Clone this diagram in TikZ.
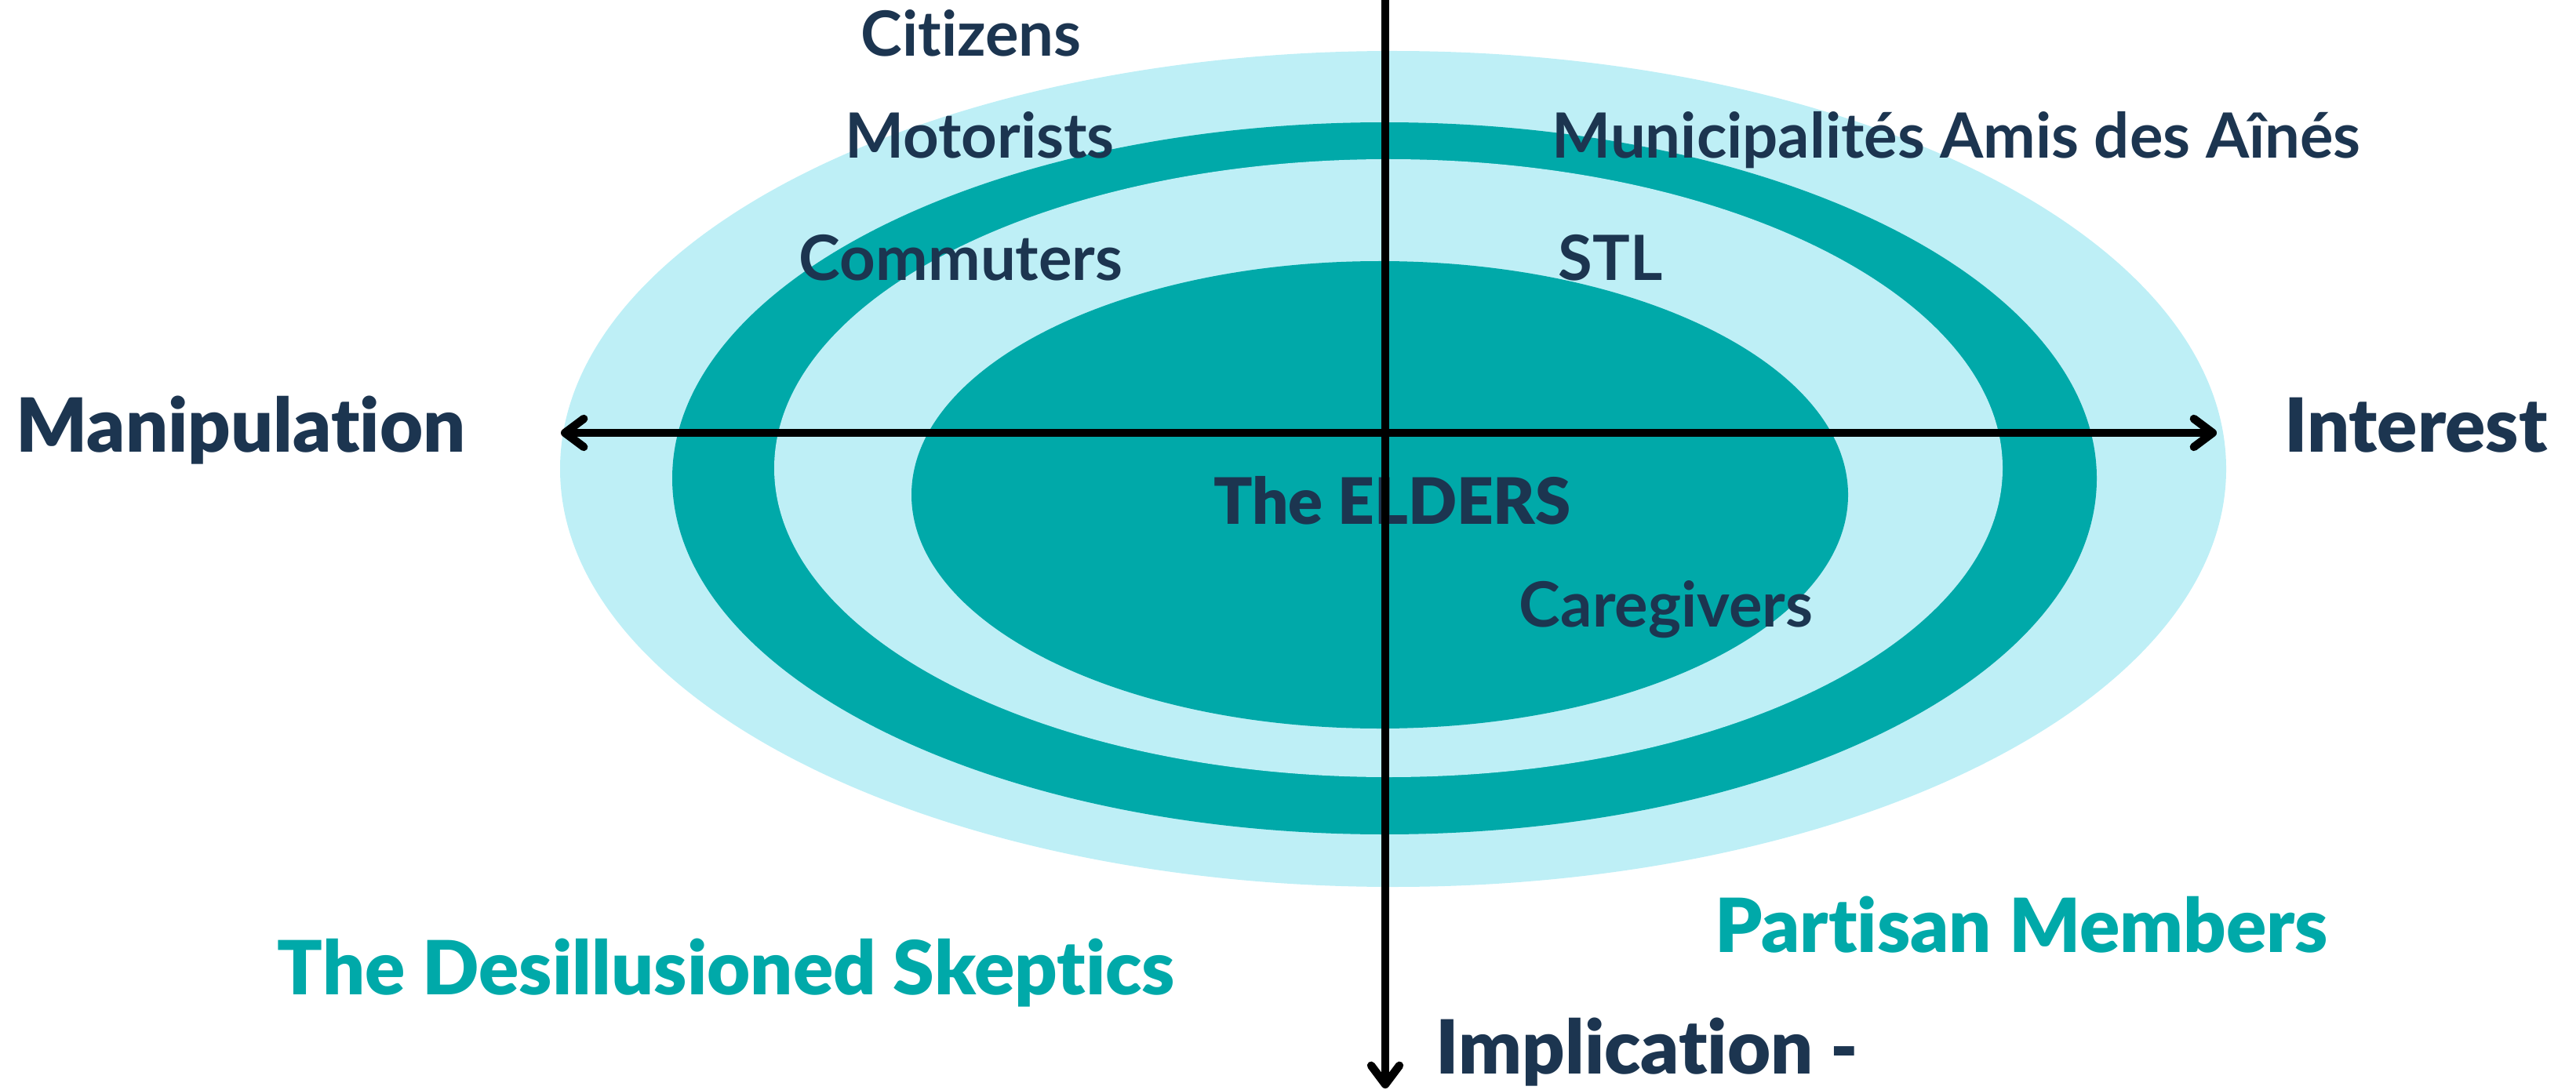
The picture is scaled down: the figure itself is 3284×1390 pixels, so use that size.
\documentclass[tikz,border=0pt]{standalone}
\usepackage{fontspec}
\setmainfont{Lato}[BoldFont={Lato Bold},Ligatures={NoCommon}]
\newfontfamily\heavyfont{Lato Black}[Ligatures={NoCommon}]
\usetikzlibrary{arrows.meta}
\definecolor{lightcyan}{HTML}{BEEFF6}
\definecolor{tealc}{HTML}{00A9A9}
\definecolor{navy}{HTML}{1C3550}
\tikzset{
  lbl/.style={anchor=base, inner sep=0pt, text=navy, font=\bfseries\fontsize{19.9pt}{24pt}\selectfont},
  biglbl/.style={anchor=base, inner sep=0pt, text=navy, font=\heavyfont\fontsize{23.8pt}{28pt}\selectfont},
  elderlbl/.style={anchor=base, inner sep=0pt, text=navy, font=\heavyfont\fontsize{20.4pt}{24pt}\selectfont},
  teallbl/.style={biglbl, text=tealc},
  axis/.style={line width=2.6pt, black, -{Straight Barb[length=6pt,width=9pt,line cap=round,line join=round]}},
}
\begin{document}
\begin{tikzpicture}[x=0.25pt,y=-0.25pt]
\useasboundingbox (0,0) rectangle (3284,1390);
% ellipses
\fill[lightcyan] (1776,598) ellipse [x radius=1062, y radius=533];
\fill[tealc] (1765,610) ellipse [x radius=908, y radius=454];
\fill[lightcyan] (1770,597) ellipse [x radius=783, y radius=394];
\fill[tealc] (1759,631) ellipse [x radius=597, y radius=298];
% labels
\node[lbl] (citizens) at (1238,72) {Citizens};
\node[lbl] (motorists) at (1249,202) {Motorists};
\node[lbl] (commuters) at (1225,358) {Commuters};
\node[lbl] (mada) at (2494,202) {Municipalités Amis des Aînés};
\node[lbl] (stl) at (2053,358) {STL};
\node[elderlbl] (elders) at (1775,668) {The ELDERS};
\node[lbl] (caregivers) at (2124,799) {Caregivers};
\node[biglbl] (manip) at (307,576) {Manipulation};
\node[biglbl] (interest) at (3080,576) {Interest};
\node[biglbl] (impl) at (2100,1369) {Implication -};
\node[teallbl] (skeptics) at (926,1268) {The Desillusioned Skeptics};
\node[teallbl] (partisan) at (2577,1214) {Partisan Members};
% axes
\coordinate (hcenter) at (1766,552);
\coordinate (hleft) at (715,552);
\coordinate (hright) at (2826,552);
\coordinate (vtop) at (1766,-5);
\coordinate (vbottom) at (1766,1388);
\draw[axis] (hcenter) -- (hleft);
\draw[axis] (hcenter) -- (hright);
\draw[axis] (vtop) -- (vbottom);
\end{tikzpicture}
\end{document}
